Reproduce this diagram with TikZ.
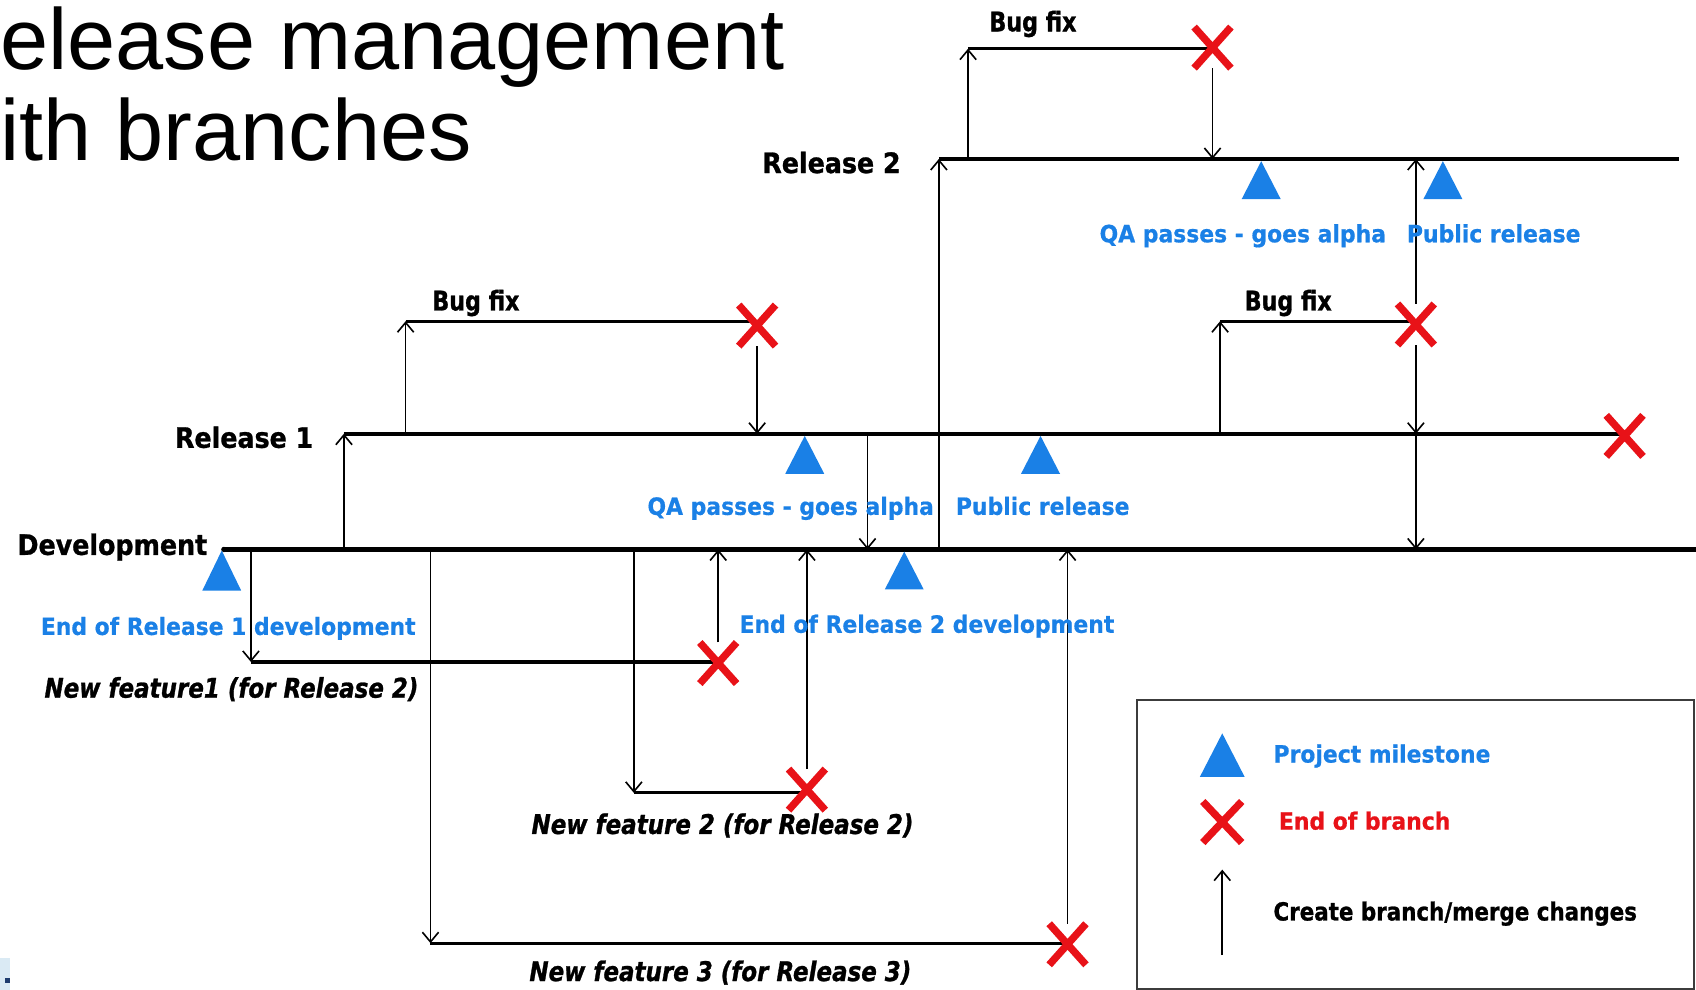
\documentclass[tikz,border=0pt]{standalone}
\usepackage{fontspec}
\setmainfont{DejaVu Sans}
\newfontfamily\titlefont{Liberation Sans}
\newfontfamily\labelfont[FakeStretch=0.9,BoldFeatures={FakeBold=1}]{DejaVu Sans}
\newfontfamily\bluefont[FakeStretch=0.92,BoldFeatures={FakeBold=0.6}]{DejaVu Sans}
\newfontfamily\featurefont[FakeStretch=0.85,BoldItalicFeatures={FakeBold=1}]{DejaVu Sans}
\newfontfamily\fixfont[FakeStretch=0.82,BoldFeatures={FakeBold=1}]{DejaVu Sans}
\newfontfamily\legendfont[FakeStretch=0.86,BoldFeatures={FakeBold=1}]{DejaVu Sans}
\usetikzlibrary{arrows.meta,shapes.misc,backgrounds}

\definecolor{msblue}{RGB}{26,128,230}
\definecolor{endred}{RGB}{232,18,24}
\definecolor{boxgray}{RGB}{60,60,60}
\definecolor{fragblue}{RGB}{218,234,244}
\definecolor{fragdark}{RGB}{30,60,110}

\tikzset{
  trunk/.style={line width=2.3pt},
  relline/.style={line width=1.8pt},
  fixline/.style={line width=1.5pt},
  arr/.style={line width=0.75pt, -{Straight Barb[length=4.5pt,width=7.5pt]}},
  endx/.style={cross out, draw=endred, line width=3.4pt, minimum width=17pt,
    minimum height=19pt, inner sep=0pt, outer sep=0pt},
  title/.style={font=\titlefont\fontsize{40}{46}\selectfont, inner sep=0pt},
  lbl/.style={font=\labelfont\bfseries\fontsize{13}{15}\selectfont, inner sep=0pt, anchor=base},
  fixlbl/.style={font=\fixfont\bfseries\fontsize{12.5}{15}\selectfont, inner sep=0pt, anchor=base},
  blu/.style={font=\bluefont\bfseries\fontsize{11}{13}\selectfont, text=msblue, inner sep=0pt, anchor=base},
  feat/.style={font=\featurefont\bfseries\itshape\fontsize{12.5}{15}\selectfont, inner sep=0pt, anchor=base},
  lgd/.style={font=\legendfont\bfseries\fontsize{11.5}{14}\selectfont, inner sep=0pt, anchor=base},
  milestone/.pic={\fill[msblue] (0,0) -- (-18,35) -- (18,35) -- cycle;},
}

\begin{document}
\begin{tikzpicture}[x=0.5pt,y=-0.5pt]
\useasboundingbox (0,0) rectangle (1568,915);

% heading
\node[title, anchor=base west] (t1) at (0,64) {elease management};
\node[title, anchor=base west] (t2) at (0,148) {ith branches};

% line start points
\coordinate (dev0) at (207,508);
\coordinate (devE) at (1568,508);
\coordinate (r1s) at (318,401);
\coordinate (r2s) at (868,147);
\coordinate (r2e) at (1552,147);
\coordinate (bf2s) at (895,45);
\coordinate (bf1s) at (375,297);
\coordinate (bf3s) at (1128,297);
\coordinate (m1) at (802,401);
\coordinate (nf1s) at (232,612);
\coordinate (nf2s) at (586,733);
\coordinate (nf3s) at (398,872);

% ends of branches
\node[endx] (x-bf2) at (1121,44) {};
\node[endx] (x-bf1) at (700,301) {};
\node[endx] (x-bf3) at (1309,300) {};
\node[endx] (x-r1) at (1502,403) {};
\node[endx] (x-nf1) at (664,613) {};
\node[endx] (x-nf2) at (746,730) {};
\node[endx] (x-nf3) at (987,873) {};

% milestones
\coordinate (ms-dev1) at (205,509);
\coordinate (ms-dev2) at (836,510);
\coordinate (ms-r1qa) at (744,403);
\coordinate (ms-r1pub) at (962,403);
\coordinate (ms-r2qa) at (1166,149);
\coordinate (ms-r2pub) at (1334,149);
\pic[yscale=1.06] at (ms-dev1) {milestone};
\pic at (ms-dev2) {milestone};
\pic at (ms-r1qa) {milestone};
\pic at (ms-r1pub) {milestone};
\pic at (ms-r2qa) {milestone};
\pic at (ms-r2pub) {milestone};

% line names
\node[lbl, anchor=base east] (l-dev) at (192,513) {Development};
\node[lbl, anchor=base east] (l-r1) at (290,414) {Release 1};
\node[lbl, anchor=base east] (l-r2) at (833,160) {Release 2};
\node[fixlbl] (l-bf2) at (955,29) {Bug fix};
\node[fixlbl] (l-bf1) at (440,287) {Bug fix};
\node[fixlbl] (l-bf3) at (1191,287) {Bug fix};

% milestone names
\node[blu] (l-r2qa) at (1149,224) {QA passes - goes alpha};
\node[blu] (l-r2pub) at (1381,224) {Public release};
\node[blu] (l-r1qa) at (731,476) {QA passes - goes alpha};
\node[blu] (l-r1pub) at (964,476) {Public release};
\node[blu] (l-dev1) at (211,587) {End of Release 1 development};
\node[blu] (l-dev2) at (857,585) {End of Release 2 development};

% feature branch names
\node[feat] (l-nf1) at (214,645) {New feature1 (for Release 2)};
\node[feat] (l-nf2) at (668,771) {New feature 2 (for Release 2)};
\node[feat] (l-nf3) at (666,907) {New feature 3 (for Release 3)};

% key
\draw[boxgray, line width=1pt] (1051,647) rectangle (1566,914);
\coordinate (lg-ms) at (1130,678);
\pic[scale=1.15] at (lg-ms) {milestone};
\node[endx, minimum width=18pt, minimum height=19pt] (lg-x) at (1130,760) {};
\coordinate (lg-a0) at (1130,883);
\coordinate (lg-a1) at (1130,804);
\node[blu, anchor=base west] (lg-mst) at (1177,705) {Project milestone};
\node[blu, text=endred, anchor=base west] (lg-end) at (1182,767) {End of branch};
\node[lgd, anchor=base west] (lg-arr) at (1177,851) {Create branch/merge changes};

% corner fragment
\fill[fragblue] (0,886) rectangle (9,915);
\fill[fragdark] (5,904) rectangle (9,909);

\begin{scope}[on background layer]
  \fill[white] (0,0) rectangle (1568,915);
  % branch / merge arrows
  \draw[arr] (r1s |- dev0) -- (r1s);
  \draw[arr] (bf1s |- r1s) -- (bf1s);
  \draw[arr] (x-bf1) -- (x-bf1 |- r1s);
  \draw[arr] (m1) -- (m1 |- dev0);
  \draw[arr] (r2s |- dev0) -- (r2s);
  \draw[arr] (bf2s |- r2s) -- (bf2s);
  \draw[arr] (x-bf2) -- (x-bf2 |- r2s);
  \draw[arr] (bf3s |- r1s) -- (bf3s);
  \draw[arr] (x-bf3) -- (x-bf3 |- r2s);
  \draw[arr] (x-bf3) -- (x-bf3 |- r1s);
  \draw[arr] (x-bf3 |- r1s) -- (x-bf3 |- dev0);
  \draw[arr] (nf1s |- dev0) -- (nf1s);
  \draw[arr] (x-nf1) -- (x-nf1 |- dev0);
  \draw[arr] (nf2s |- dev0) -- (nf2s);
  \draw[arr] (x-nf2) -- (x-nf2 |- dev0);
  \draw[arr] (nf3s |- dev0) -- (nf3s);
  \draw[arr] (x-nf3) -- (x-nf3 |- dev0);
  \draw[arr] (lg-a0) -- (lg-a1);
  % code lines
  \draw[trunk] (dev0) -- (devE);
  \fill (dev0) circle (2.5);
  \draw[relline] (r1s) -- (r1s -| x-r1);
  \draw[relline] (r2s) -- (r2e);
  \draw[fixline] (bf2s) -- (bf2s -| x-bf2);
  \draw[fixline] (bf1s) -- (bf1s -| x-bf1);
  \draw[fixline] (bf3s) -- (bf3s -| x-bf3);
  \draw[fixline] (nf1s) -- (nf1s -| x-nf1);
  \draw[fixline] (nf2s) -- (nf2s -| x-nf2);
  \draw[fixline] (nf3s) -- (nf3s -| x-nf3);
\end{scope}
\end{tikzpicture}
\end{document}
